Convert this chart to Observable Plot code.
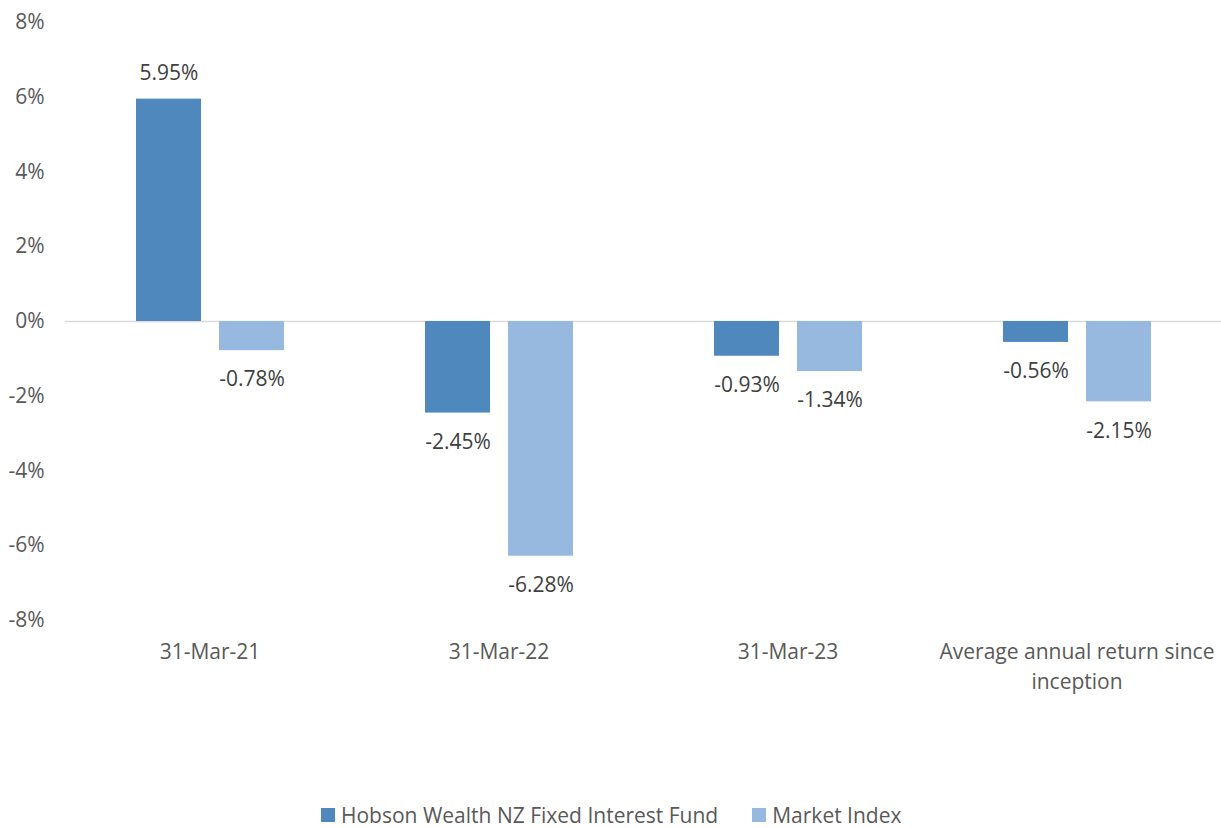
<!DOCTYPE html>
<html>
<head>
<meta charset="utf-8">
<script src="https://cdn.jsdelivr.net/npm/d3@7"></script>
<script src="https://cdn.jsdelivr.net/npm/@observablehq/plot@0.6"></script>
<style>
  html, body { margin: 0; padding: 0; background: #fff; }
  #chart svg { display: block; }
  .legend { display: flex; justify-content: flex-start; align-items: center; margin-top: 104px; padding-left: 321px;
    font-family: "Open Sans", sans-serif; font-size: 21px; color: #595959; line-height: 22px; }
  .legend .item { display: flex; align-items: center; }
  .legend .sw { width: 14px; height: 14px; margin-right: 6px; }
</style>
</head>
<body>
<div id="chart"></div>
<script>
const categories = ["31-Mar-21", "31-Mar-22", "31-Mar-23", "Average annual return since inception"];
const categoryLabels = ["31-Mar-21", "31-Mar-22", "31-Mar-23", "Average annual return since\ninception"];
const series = ["Hobson Wealth NZ Fixed Interest Fund", "Market Index"];
const fundValues = [5.95, -2.45, -0.93, -0.56];
const indexValues = [-0.78, -6.28, -1.34, -2.15];
const yTicks = [-8, -6, -4, -2, 0, 2, 4, 6, 8];
const colors = ["#4F88BD", "#97B8DF"];

const data = [];
categories.forEach((c, i) => {
  data.push({category: c, series: series[0], value: fundValues[i]});
  data.push({category: c, series: series[1], value: indexValues[i]});
});
const labelOf = new Map(categories.map((c, i) => [c, categoryLabels[i]]));
const fmt = d => d.value.toFixed(2) + "%";

const chart = Plot.plot({
  width: 1221,
  height: 700,
  marginLeft: 65,
  marginRight: 0,
  marginTop: 22,
  marginBottom: 80,
  style: {fontFamily: "Open Sans, sans-serif", fontSize: "21px", color: "#595959", background: "#fff"},
  fx: {domain: categories, padding: 0, label: null, axis: null},
  x: {domain: series, axis: null, paddingInner: 0.217, paddingOuter: 0.84},
  y: {domain: [-8, 8], label: null, axis: null},
  color: {domain: series, range: colors},
  marks: [
    Plot.axisY({ticks: yTicks, tickFormat: d => d + "%", tickSize: 0, tickPadding: 21, label: null, fill: "#595959"}),
    Plot.axisFx({anchor: "bottom", tickFormat: d => labelOf.get(d), tickSize: 0, tickPadding: 18, lineHeight: 1.4, label: null, fill: "#595959"}),
    Plot.ruleY([0], {stroke: "#d9d9d9", strokeWidth: 1.5}),
    Plot.barY(data, {fx: "category", x: "series", y: "value", fill: "series"}),
    Plot.text(data.filter(d => d.value >= 0), {fx: "category", x: "series", y: "value", text: fmt, dy: -26, fill: "#404040"}),
    Plot.text(data.filter(d => d.value < 0), {fx: "category", x: "series", y: "value", text: fmt, dy: 29, fill: "#404040"})
  ]
});
document.getElementById("chart").appendChild(chart);

const legend = document.createElement("div");
legend.className = "legend";
series.forEach((s, i) => {
  const item = document.createElement("div");
  item.className = "item";
  if (i > 0) item.style.marginLeft = "34px";
  const sw = document.createElement("span");
  sw.className = "sw";
  sw.style.background = colors[i];
  const t = document.createElement("span");
  t.textContent = s;
  item.appendChild(sw);
  item.appendChild(t);
  legend.appendChild(item);
});
document.body.appendChild(legend);
</script>
</body>
</html>
